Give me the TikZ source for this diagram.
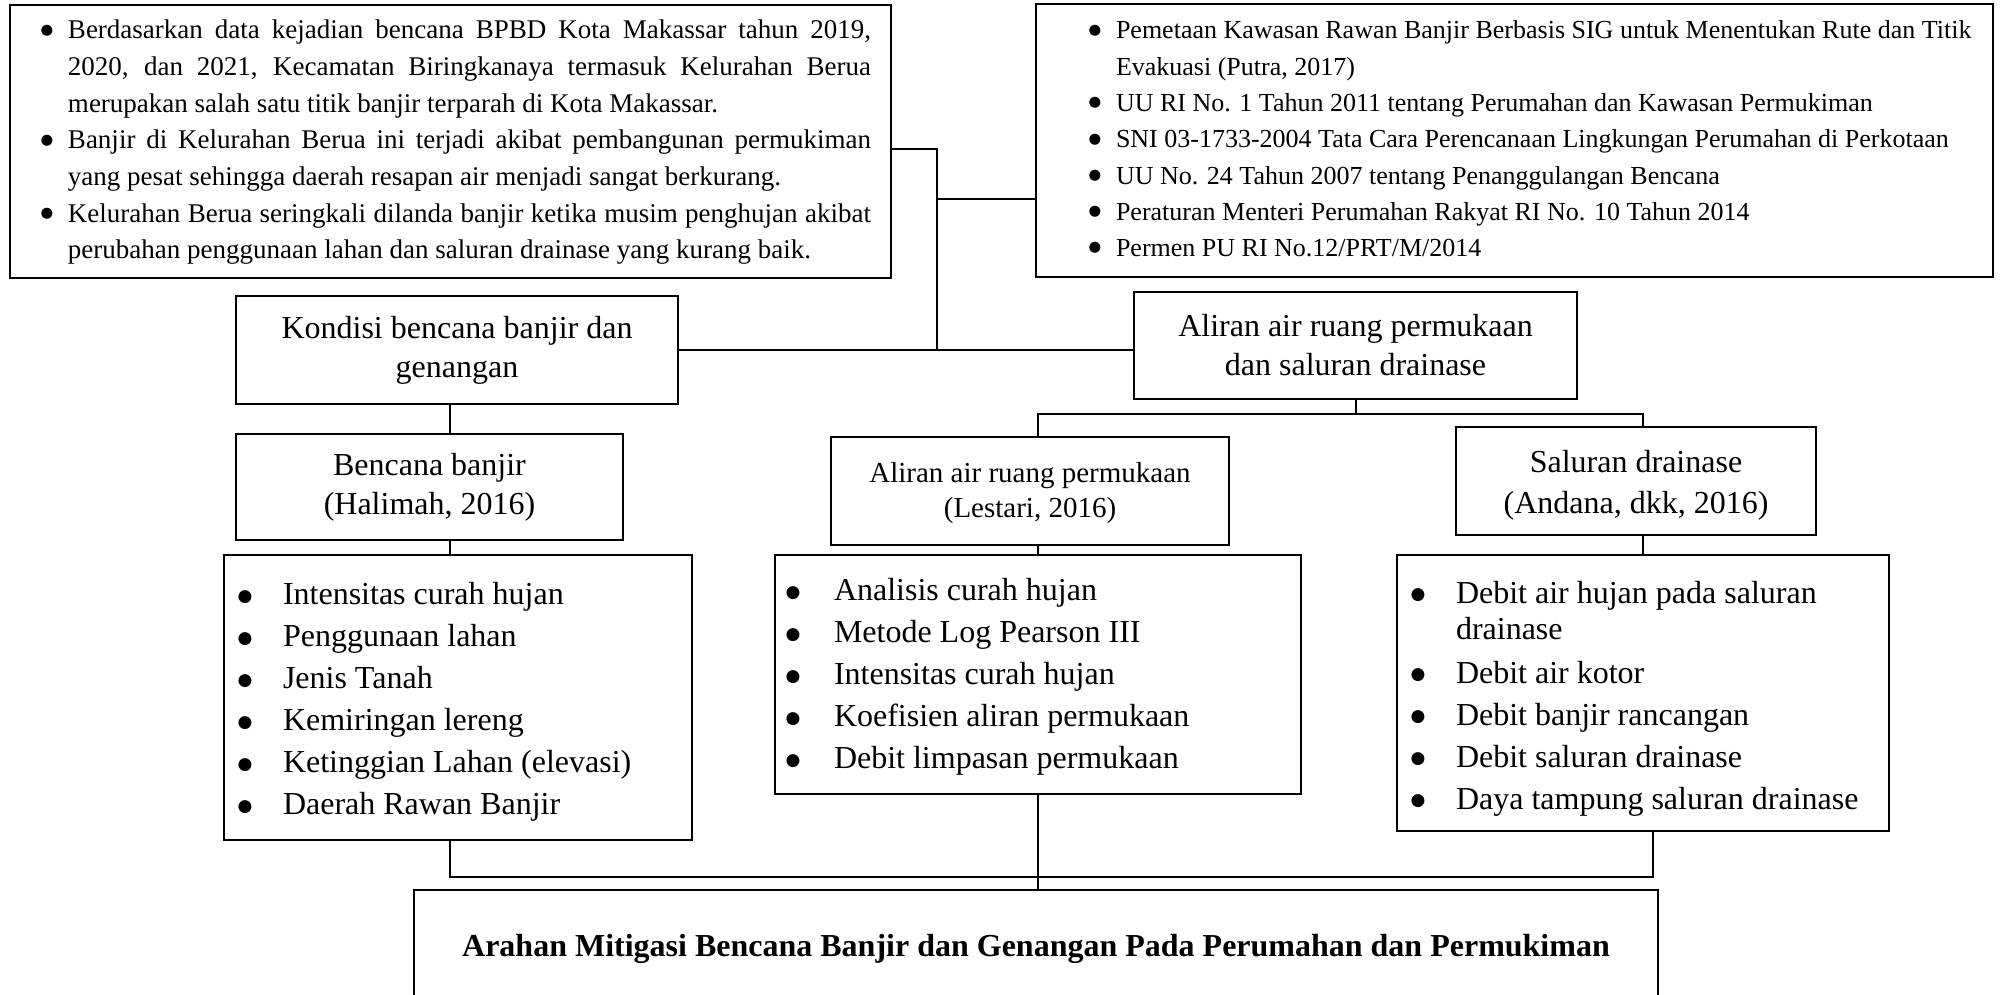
\documentclass[tikz,border=0pt]{standalone}
\usepackage{fontspec}
\setmainfont{Liberation Serif}
\newfontfamily\bltfont{DejaVu Sans}
\usepackage{array}
\usepackage{tikz}
\usetikzlibrary{calc}
\hyphenpenalty=10000
\exhyphenpenalty=10000
% Word style bullets and a small downward nudge of a text block
\newcommand{\blt}[2]{\raisebox{#2}{\bltfont\fontsize{#1}{#1}\selectfont ●}}
\newcommand{\sblt}{\blt{14.5pt}{4.7pt}}
\newcommand{\lblt}{\blt{17pt}{3.9pt}}
\newcommand{\lowered}[2]{\raisebox{-#1}[\height][\depth]{#2}}

\begin{document}
\begin{tikzpicture}[
    x=1pt, y=-1pt,
    box/.style={draw, line width=2.6pt, inner sep=0pt, fill=white},
    title/.style={box, align=center, font=\fontsize{32}{39}\selectfont},
    list/.style={box, font=\fontsize{32}{42}\selectfont},
    link/.style={line width=2pt}
]
\useasboundingbox (0,0) rectangle (2003,995);

% top row
\node[box, minimum width=881pt, minimum height=273pt, font=\fontsize{27}{36.7}\selectfont] (tl) at (450.5,141.5) {%
\begin{tabular}{@{\hspace{30.5pt}}p{27.5pt}@{}p{803pt}@{\hspace{20pt}}}
\sblt & Berdasarkan data kejadian bencana BPBD Kota Makassar tahun 2019,\linebreak 2020, dan 2021, Kecamatan Biringkanaya termasuk Kelurahan Berua\linebreak merupakan salah satu titik banjir terparah di Kota Makassar.\\
\sblt & Banjir di Kelurahan Berua ini terjadi akibat pembangunan permukiman\linebreak yang pesat sehingga daerah resapan air menjadi sangat berkurang.\\
\sblt & Kelurahan Berua seringkali dilanda banjir ketika musim penghujan akibat\linebreak perubahan penggunaan lahan dan saluran drainase yang kurang baik.
\end{tabular}};
\node[box, minimum width=957pt, minimum height=273pt, font=\fontsize{26}{36.3}\selectfont] (tr) at (1514.5,140.5) {%
\begin{tabular}{@{\hspace{52.5pt}}p{27.5pt}@{}p{870pt}@{\hspace{7pt}}}
\sblt & Pemetaan Kawasan Rawan Banjir Berbasis SIG untuk Menentukan Rute dan Titik\\
 & Evakuasi (Putra, 2017)\\
\sblt & UU RI No. 1 Tahun 2011 tentang Perumahan dan Kawasan Permukiman\\
\sblt & SNI 03-1733-2004 Tata Cara Perencanaan Lingkungan Perumahan di Perkotaan\\
\sblt & UU No. 24 Tahun 2007 tentang Penanggulangan Bencana\\
\sblt & Peraturan Menteri Perumahan Rakyat RI No. 10 Tahun 2014\\
\sblt & Permen PU RI No.12/PRT/M/2014
\end{tabular}};

% titles
\node[title, minimum width=442pt, minimum height=108pt] (kondisi) at (457,350) {Kondisi bencana banjir dan\\genangan};
\node[title, minimum width=443pt, minimum height=107pt] (aliran) at (1355.5,345.5) {Aliran air ruang permukaan\\dan saluran drainase};
\node[title, minimum width=387pt, minimum height=106pt] (bencana) at (429.5,487) {Bencana banjir\\(Halimah, 2016)};
\node[title, minimum width=398pt, minimum height=108pt, font=\fontsize{29}{35}\selectfont] (lestari) at (1030,491) {%
\lowered{2pt}{\begin{tabular}{@{}c@{}}Aliran air ruang permukaan\\(Lestari, 2016)\end{tabular}}};
\node[title, minimum width=360pt, minimum height=108pt, font=\fontsize{32}{41}\selectfont] (saluran) at (1636,481) {%
\lowered{4pt}{\begin{tabular}{@{}c@{}}Saluran drainase\\(Andana, dkk, 2016)\end{tabular}}};

% lists
\node[list, minimum width=468pt, minimum height=285pt] (list1) at (458,697.5) {%
\lowered{4pt}{\begin{tabular}{@{\hspace{13.5pt}}p{45.5pt}@{}p{409pt}@{}}
\lblt & Intensitas curah hujan\\
\lblt & Penggunaan lahan\\
\lblt & Jenis Tanah\\
\lblt & Kemiringan lereng\\
\lblt & Ketinggian Lahan (elevasi)\\
\lblt & Daerah Rawan Banjir
\end{tabular}}};
\node[list, minimum width=526pt, minimum height=239pt] (list2) at (1038,674.5) {%
\lowered{2pt}{\begin{tabular}{@{\hspace{10.5pt}}p{48.5pt}@{}p{467pt}@{}}
\lblt & Analisis curah hujan\\
\lblt & Metode Log Pearson III\\
\lblt & Intensitas curah hujan\\
\lblt & Koefisien aliran permukaan\\
\lblt & Debit limpasan permukaan
\end{tabular}}};
\node[list, minimum width=492pt, minimum height=276pt] (list3) at (1643,693) {%
\lowered{5pt}{\begin{tabular}{@{\hspace{13.5pt}}p{45.5pt}@{}p{433pt}@{}}
\lblt & Debit air hujan pada saluran\\[-6pt]
 & drainase\\[2pt]
\lblt & Debit air kotor\\
\lblt & Debit banjir rancangan\\
\lblt & Debit saluran drainase\\
\lblt & Daya tampung saluran drainase
\end{tabular}}};

\node[box, minimum width=1244pt, minimum height=112pt, font=\bfseries\fontsize{32}{39}\selectfont] (arahan) at (1036,946) {%
\lowered{3pt}{Arahan Mitigasi Bencana Banjir dan Genangan Pada Perumahan dan Permukiman}};

% connectors
\coordinate (hub) at (937,350);
\coordinate (kx) at (450,0);
\coordinate (bar) at (1357,414);
\coordinate (rx) at (1653,877);
\draw[link] ([yshift=-7.5pt]tl.east) -| (hub);
\draw[link] ([yshift=-58.5pt]tr.west) coordinate (trj) -- (trj -| hub);
\draw[link] (kondisi.east) -- (kondisi.east -| aliran.west);
\draw[link] (kondisi.south -| kx) -- (bencana.north -| kx);
\draw[link] (bencana.south -| kx) -- (list1.north -| kx);
\draw[link] (aliran.south) -- (aliran.south |- bar);
\draw[link] (lestari.north -| list2.north) |- (bar) -| (saluran.north -| list3.north);
\draw[link] (lestari.south -| list2.north) -- (list2.north);
\draw[link] (saluran.south -| list3.north) -- (list3.north);
\draw[link] (list1.south -| kx) |- (rx) -- (rx |- list3.south);
\draw[link] (list2.south) -- (list2.south |- arahan.north);
\end{tikzpicture}
\end{document}
